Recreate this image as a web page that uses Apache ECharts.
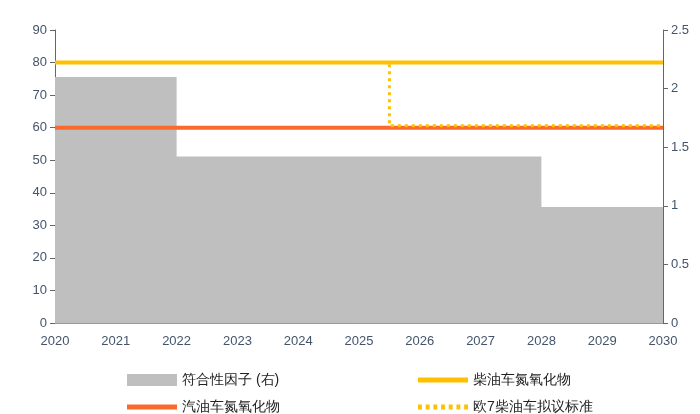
<!DOCTYPE html>
<html><head><meta charset="utf-8">
<script src="https://cdn.jsdelivr.net/npm/echarts@6/dist/echarts.min.js"></script>
<style>html,body{margin:0;padding:0;background:#fff}#c{width:700px;height:414px}</style>
</head><body><div id="c"></div>
<script>
// 符合性因子 (右轴)
var conformity = [[2020, 2.1], [2022, 1.42], [2028, 0.99], [2030, 0.99]];
var diesel = [[2020, 80], [2030, 80]];
var gasoline = [[2020, 60], [2030, 60]];
var euro7 = [[2020, 80], [2025.5, 80], [2025.5, 60.6], [2030, 60.6]];

var axisText = {color: '#44546A', fontSize: 13, fontFamily: 'Liberation Sans'};
var solidIcon = 'path://M0,0H50V5H0Z';
var dotIcon = 'path://M0,0H4V5H0ZM8,0H12V5H8ZM16,0H20V5H16ZM24,0H28V5H24ZM32,0H36V5H32ZM40,0H44V5H40ZM48,0H52V5H48Z';
function leg(name, left, top, icon, h) {
    return {left: left, top: top, itemWidth: 50, itemHeight: h, icon: icon, data: [name],
        textStyle: {fontSize: 14, color: '#222'}};
}
var chart = echarts.init(document.getElementById('c'));
chart.setOption({
    animation: false,
    grid: {left: 55, right: 37, top: 30, bottom: 91},
    legend: [
        leg('符合性因子 (右)', 122, 368, 'rect', 12),
        leg('汽油车氮氧化物', 122, 395, solidIcon, 5),
        leg('柴油车氮氧化物', 413, 368, solidIcon, 5),
        leg('欧7柴油车拟议标准', 413, 395, dotIcon, 5)
    ],
    xAxis: {type: 'value', min: 2020, max: 2030, interval: 1,
        axisLine: {lineStyle: {color: '#999'}}, axisTick: {show: false}, splitLine: {show: false},
        axisLabel: Object.assign({formatter: function (v) { return String(v); }, margin: 12}, axisText)},
    yAxis: [
        {type: 'value', min: 0, max: 90, interval: 10, axisLine: {show: true, lineStyle: {color: '#666'}},
         splitLine: {show: false}, axisLabel: axisText},
        {type: 'value', min: 0, max: 2.5, interval: 0.5, axisLine: {show: true, lineStyle: {color: '#666'}},
         axisTick: {show: true}, splitLine: {show: false}, axisLabel: axisText}
    ],
    series: [
        {name: '符合性因子 (右)', type: 'line', yAxisIndex: 1, step: 'end', data: conformity, symbol: 'none',
         lineStyle: {width: 0}, itemStyle: {color: '#BFBFBF'}, areaStyle: {color: '#BFBFBF', opacity: 1}},
        {name: '柴油车氮氧化物', type: 'line', data: diesel, symbol: 'none',
         lineStyle: {width: 4, color: '#FFC000'}, itemStyle: {color: '#FFC000'}},
        {name: '汽油车氮氧化物', type: 'line', data: gasoline, symbol: 'none',
         lineStyle: {width: 4, color: '#F96A2C'}, itemStyle: {color: '#F96A2C'}},
        {name: '欧7柴油车拟议标准', type: 'line', data: euro7, symbol: 'none',
         lineStyle: {width: 3, color: '#FFC000', type: [3, 4]}, itemStyle: {color: '#FFC000'}}
    ]
});
</script></body></html>
